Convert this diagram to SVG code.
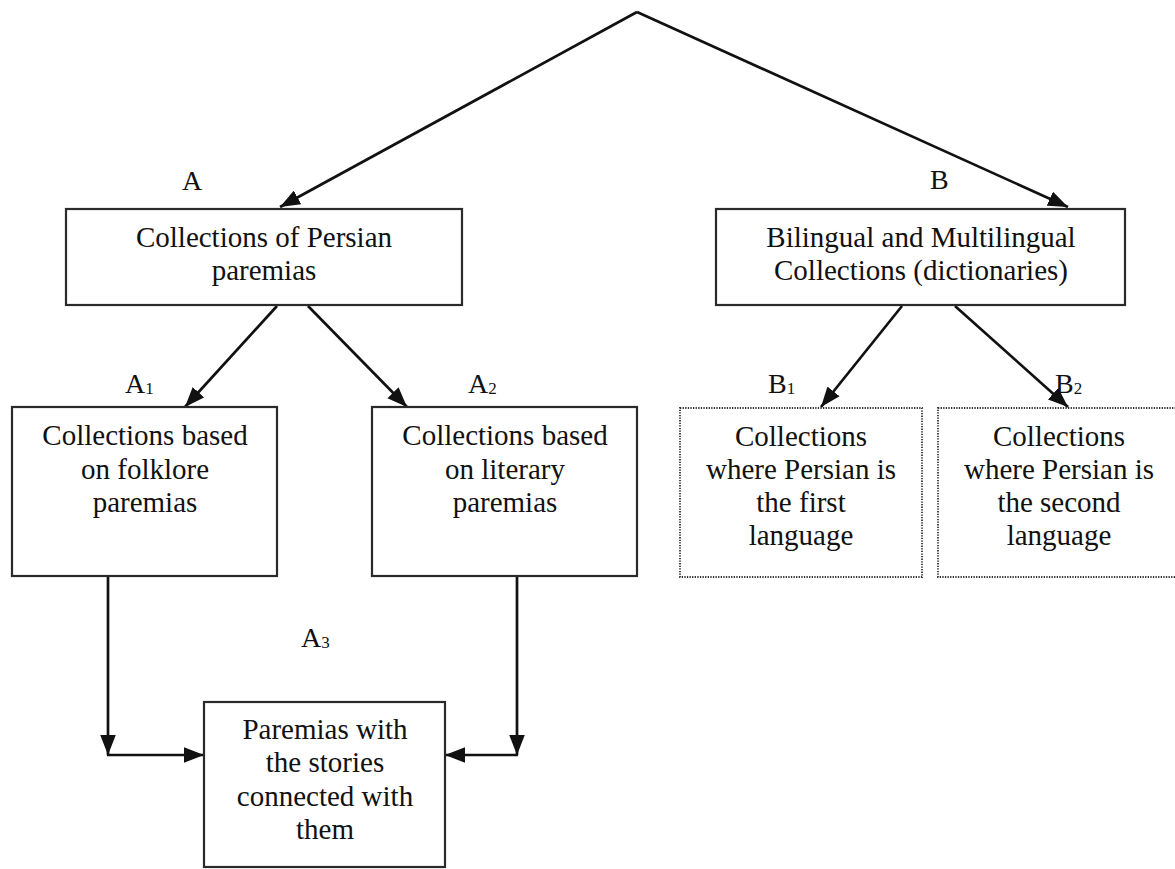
<svg xmlns="http://www.w3.org/2000/svg" width="1175" height="869" viewBox="0 0 1175 869">
  <style>
    .box { fill: #fff; stroke: #2a2a2a; stroke-width: 2.2; }
    .dotted { fill: #fff; stroke: #333; stroke-width: 1.8; stroke-dasharray: 1.3 1.3; }
    .txt { font-family: "Liberation Serif", "Times New Roman", serif; font-size: 29px; fill: #111; text-anchor: middle; }
    .lbl { font-family: "Liberation Serif", "Times New Roman", serif; font-size: 28px; fill: #111; }
    .sub { font-size: 17px; }
    .conn { fill: none; stroke: #111; stroke-width: 2.7; }
  </style>
  <defs>
    <marker id="arrow" markerUnits="userSpaceOnUse" markerWidth="20" markerHeight="16" viewBox="0 0 18 14" refX="18" refY="7" orient="auto">
      <path d="M0,0 L18,7 L0,14 z" fill="#111"/>
    </marker>
  </defs>
  <rect width="1175" height="869" fill="#fff"/>

  <!-- connectors -->
  <g id="connectors">
    <path class="conn" d="M637,12 L280,207" marker-end="url(#arrow)"/>
    <path class="conn" d="M637,12 L1068,207" marker-end="url(#arrow)"/>
    <path class="conn" d="M277,306 L185,407" marker-end="url(#arrow)"/>
    <path class="conn" d="M308,306 L407,407" marker-end="url(#arrow)"/>
    <path class="conn" d="M902,306 L821,407" marker-end="url(#arrow)"/>
    <path class="conn" d="M955,306 L1068,407" marker-end="url(#arrow)"/>
    <path class="conn" d="M108,577 V755" marker-end="url(#arrow)"/>
    <path class="conn" d="M107,755 H204" marker-end="url(#arrow)"/>
    <path class="conn" d="M517,577 V755" marker-end="url(#arrow)"/>
    <path class="conn" d="M518,755 H445" marker-end="url(#arrow)"/>
  </g>

  <!-- branch labels -->
  <g id="labels">
    <text class="lbl" x="182" y="190">A</text>
    <text class="lbl" x="930" y="189">B</text>
    <text class="lbl" x="125" y="393">A<tspan class="sub" dy="1">1</tspan></text>
    <text class="lbl" x="468" y="393">A<tspan class="sub" dy="1">2</tspan></text>
    <text class="lbl" x="768" y="393">B<tspan class="sub" dy="1">1</tspan></text>
    <text class="lbl" x="1055" y="393">B<tspan class="sub" dy="1">2</tspan></text>
    <text class="lbl" x="301" y="647">A<tspan class="sub" dy="1">3</tspan></text>
  </g>

  <g id="node-a">
    <rect class="box" x="66" y="209" width="396" height="96"/>
    <text class="txt" x="264" y="247">Collections of Persian</text>
    <text class="txt" x="264" y="280">paremias</text>
  </g>

  <g id="node-b">
    <rect class="box" x="716" y="209" width="409" height="96"/>
    <text class="txt" x="921" y="247">Bilingual and Multilingual</text>
    <text class="txt" x="921" y="280">Collections (dictionaries)</text>
  </g>

  <g id="node-a1">
    <rect class="box" x="12" y="407" width="265" height="169"/>
    <text class="txt" x="145" y="445">Collections based</text>
    <text class="txt" x="145" y="479">on folklore</text>
    <text class="txt" x="145" y="512">paremias</text>
  </g>

  <g id="node-a2">
    <rect class="box" x="372" y="407" width="265" height="169"/>
    <text class="txt" x="505" y="445">Collections based</text>
    <text class="txt" x="505" y="479">on literary</text>
    <text class="txt" x="505" y="512">paremias</text>
  </g>

  <g id="node-a3">
    <rect class="box" x="204" y="702" width="241" height="165"/>
    <text class="txt" x="325" y="739">Paremias with</text>
    <text class="txt" x="325" y="772">the stories</text>
    <text class="txt" x="325" y="806">connected with</text>
    <text class="txt" x="325" y="839">them</text>
  </g>

  <g id="node-b1">
    <rect class="dotted" x="680" y="408" width="242" height="169"/>
    <text class="txt" x="801" y="446">Collections</text>
    <text class="txt" x="801" y="479">where Persian is</text>
    <text class="txt" x="801" y="512">the first</text>
    <text class="txt" x="801" y="545">language</text>
  </g>

  <g id="node-b2">
    <rect class="dotted" x="938" y="408" width="242" height="169"/>
    <text class="txt" x="1059" y="446">Collections</text>
    <text class="txt" x="1059" y="479">where Persian is</text>
    <text class="txt" x="1059" y="512">the second</text>
    <text class="txt" x="1059" y="545">language</text>
  </g>
</svg>
